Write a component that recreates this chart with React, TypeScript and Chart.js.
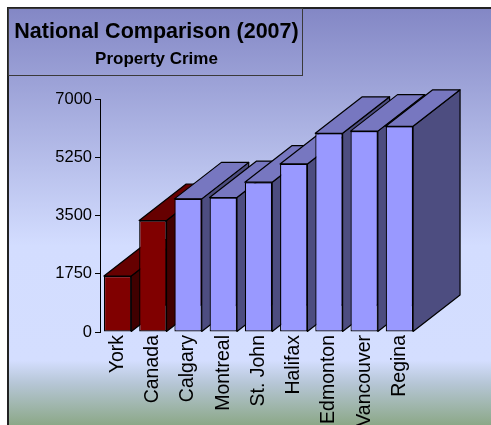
import { useEffect, useRef } from "react";
import { Chart, registerables } from "chart.js";

Chart.register(...registerables);

// ---- data ----
const categories = ["York", "Canada", "Calgary", "Montreal", "St. John", "Halifax", "Edmonton", "Vancouver", "Regina"];
const propertyCrime = [1680, 3350, 4000, 4040, 4500, 5050, 5970, 6035, 6180];
const yTicks = [0, 1750, 3500, 5250, 7000];
const highlighted = ["York", "Canada"];
const titleText = "National Comparison (2007)";
const subtitleText = "Property Crime";

// ---- styles ----
const W = 491;
const H = 425;
const DX = 47;
const DY = -36.5;
const FONT = "'Liberation Sans', Arial, Helvetica, sans-serif";
const red = { front: "#800000", top: "#660000", side: "#400000" };
const blue = { front: "#9999FF", top: "#7777C0", side: "#4D4D80" };

const paletteFor = (i: number) => (highlighted.includes(categories[i]) ? red : blue);

const backgroundPlugin = {
  id: "bgPlugin",
  beforeDraw(chart: any) {
    const ctx = chart.ctx as CanvasRenderingContext2D;
    ctx.save();
    ctx.fillStyle = "#ffffff";
    ctx.fillRect(0, 0, W, H);
    const g = ctx.createLinearGradient(0, 8, 0, H);
    g.addColorStop(0, "#8387C5");
    g.addColorStop(0.57, "#D3DDFF");
    g.addColorStop(0.845, "#D4DEFF");
    g.addColorStop(0.9, "#B6C6D6");
    g.addColorStop(1, "#8CA888");
    ctx.fillStyle = g;
    ctx.fillRect(8, 8, W - 8, H - 8);
    ctx.fillStyle = "#222222";
    ctx.fillRect(7, 7, W - 7, 2);
    ctx.fillRect(7, 7, 2, H - 7);
    ctx.restore();
  },
  afterDraw(chart: any) {
    const ctx = chart.ctx as CanvasRenderingContext2D;
    ctx.save();
    ctx.strokeStyle = "#3a3a3a";
    ctx.lineWidth = 1;
    ctx.strokeRect(8.5, 8.5, 294, 67);
    ctx.fillStyle = "#000";
    ctx.textAlign = "center";
    ctx.textBaseline = "alphabetic";
    ctx.font = `bold 21.5px ${FONT}`;
    ctx.fillText(titleText, 156.5, 38);
    ctx.font = `bold 17px ${FONT}`;
    ctx.fillText(subtitleText, 156.5, 63.5);
    ctx.restore();
  },
};

const box3dPlugin = {
  id: "box3d",
  beforeDatasetsDraw(chart: any) {
    const ctx = chart.ctx as CanvasRenderingContext2D;
    const meta = chart.getDatasetMeta(0);
    ctx.save();
    ctx.lineWidth = 1.2;
    ctx.strokeStyle = "#000";
    ctx.lineJoin = "round";
    meta.data.forEach((el: any, i: number) => {
      const { x, y, base, width } = el.getProps(["x", "y", "base", "width"], true);
      const l = x - width / 2;
      const r = x + width / 2;
      const pal = paletteFor(i);
      // side face
      ctx.beginPath();
      ctx.moveTo(r, base);
      ctx.lineTo(r + DX, base + DY);
      ctx.lineTo(r + DX, y + DY);
      ctx.lineTo(r, y);
      ctx.closePath();
      ctx.fillStyle = pal.side;
      ctx.fill();
      ctx.stroke();
      // top face
      ctx.beginPath();
      ctx.moveTo(l, y);
      ctx.lineTo(l + DX, y + DY);
      ctx.lineTo(r + DX, y + DY);
      ctx.lineTo(r, y);
      ctx.closePath();
      ctx.fillStyle = pal.top;
      ctx.fill();
      ctx.stroke();
    });
    ctx.restore();
  },
};

export default function App() {
  const ref = useRef<HTMLCanvasElement>(null);
  useEffect(() => {
    if (!ref.current) return;
    Chart.defaults.font.family = FONT;
    const chart = new Chart(ref.current, {
      type: "bar",
      data: {
        labels: categories,
        datasets: [
          {
            data: propertyCrime,
            backgroundColor: categories.map((_, i) => paletteFor(i).front),
            borderColor: "#000",
            borderWidth: 1.2,
            borderSkipped: false,
            barPercentage: 0.776,
            categoryPercentage: 1,
          },
        ],
      },
      options: {
        responsive: false,
        animation: false,
        layout: { padding: { top: 99, right: 74, bottom: 0, left: 0 } },
        plugins: { legend: { display: false }, tooltip: { enabled: false }, title: { display: false } },
        scales: {
          x: {
            offset: true,
            grid: { display: false, drawTicks: false },
            border: { display: false },
            ticks: {
              minRotation: 90,
              maxRotation: 90,
              autoSkip: false,
              color: "#000",
              padding: 3,
              font: { size: 19.5, family: FONT },
            },
            afterFit: (s: any) => {
              s.height = H - 332;
            },
          },
          y: {
            min: 0,
            max: 7000,
            afterBuildTicks: (s: any) => {
              s.ticks = yTicks.map((v) => ({ value: v }));
            },
            grid: { drawOnChartArea: false, tickLength: 5, color: "#000" },
            border: { color: "#000", width: 1 },
            ticks: {
              color: "#000",
              padding: 3,
              font: { size: 16.5, family: FONT },
              callback: (v: any) => String(v),
            },
            afterFit: (s: any) => {
              s.width = 100;
            },
          },
        },
      },
      plugins: [backgroundPlugin, box3dPlugin],
    });
    return () => chart.destroy();
  }, []);
  return (
    <div style={{ position: "fixed", left: 0, top: 0, width: W, height: H }}>
      <canvas ref={ref} width={W} height={H} style={{ display: "block", width: W, height: H }} />
    </div>
  );
}
